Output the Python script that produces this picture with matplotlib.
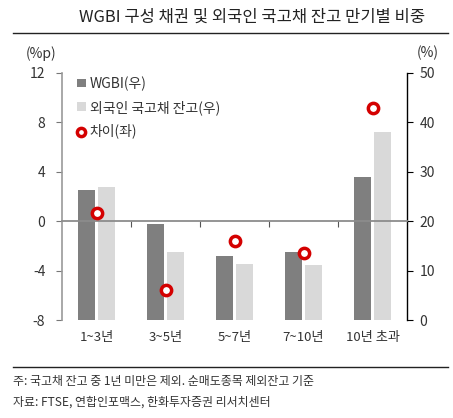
import numpy as np
import matplotlib
matplotlib.use("Agg")
import matplotlib.pyplot as plt
from matplotlib.transforms import blended_transform_factory

plt.rcParams['font.family'] = ['Noto Sans CJK KR', 'DejaVu Sans']
plt.rcParams['axes.unicode_minus'] = False

# 데이터
categories = ["1~3년", "3~5년", "5~7년", "7~10년", "10년 초과"]
wgbi = [26.3, 19.4, 12.9, 13.7, 28.9]          # 우축, %
foreign = [27.0, 13.8, 11.3, 11.1, 38.1]       # 우축, %
diff = [0.7, -5.6, -1.6, -2.6, 9.2]            # 좌축, %p

fig = plt.figure(figsize=(4.53, 4.18), dpi=100)
ax = fig.add_axes([62/453, 98/418, 345/453, 247/418])
ax2 = ax.twinx()

x = np.arange(len(categories))
w = 0.25
b1 = ax2.bar(x - 0.145, wgbi, width=w, color="#7f7f7f", label="WGBI(우)", zorder=2)
b2 = ax2.bar(x + 0.145, foreign, width=w, color="#d9d9d9", label="외국인 국고채 잔고(우)", zorder=2)
ax2.set_ylim(0, 50)
ax2.set_yticks([0, 10, 20, 30, 40, 50])

# 차이는 좌축, 막대 위에 그리기
ax.set_zorder(ax2.get_zorder() + 1)
ax.patch.set_visible(False)
pts = ax.scatter(x, diff, s=55, facecolor="white", edgecolor="#d40000",
                 linewidth=2.5, label="차이(좌)", zorder=5)
ax.set_ylim(-8, 12)
ax.set_yticks([-8, -4, 0, 4, 8, 12])
ax.set_xlim(-0.5, len(categories) - 0.5)

# x축: 0 위치에 선, 경계에 눈금
ax.spines['bottom'].set_position(('data', 0))
ax.spines['bottom'].set_color("#8c8c8c")
ax.spines['bottom'].set_linewidth(1.3)
ax.set_xticks(np.arange(0.5, len(categories) - 0.5, 1.0))
ax.set_xticklabels([])
ax.tick_params(axis='x', direction='out', length=4, color="#555555")
trans = blended_transform_factory(ax.transData, ax.transAxes)
for i, c in enumerate(categories):
    ax.text(x[i], -0.07, c, transform=trans, ha="center", va="center",
            fontsize=9.5, color="#333333")

for a in (ax, ax2):
    a.spines['top'].set_visible(False)
ax.spines['right'].set_visible(False)
ax2.spines['bottom'].set_visible(False)
ax2.spines['left'].set_visible(False)
ax.spines['left'].set_color("#999999")
ax.spines['left'].set_linewidth(1.2)
ax2.spines['right'].set_color("#000000")
ax2.spines['right'].set_linewidth(1.0)
ax.tick_params(axis='y', direction='out', length=4, color="#777777",
               labelsize=10, labelcolor="#333333", pad=8)
ax2.tick_params(axis='y', direction='out', length=4, color="#000000",
                labelsize=10, labelcolor="#333333", pad=5)

ax.text(-0.06, 1.08, "(%p)", transform=ax.transAxes, ha="center", va="center",
        fontsize=10, color="#333333")
ax2.text(1.06, 1.08, "(%)", transform=ax.transAxes, ha="center", va="center",
         fontsize=10, color="#333333")

leg = ax.legend([b1, b2, pts], ["WGBI(우)", "외국인 국고채 잔고(우)", "차이(좌)"],
                loc="upper left", bbox_to_anchor=(0.02, 1.02), frameon=False,
                fontsize=10, handlelength=0.6, handleheight=0.6, handletextpad=0.3,
                labelspacing=0.65, markerscale=0.8, borderaxespad=0.2)
for t in leg.get_texts():
    t.set_color("#333333")

# 제목과 선
fig.text(0.556, 0.958, "WGBI 구성 채권 및 외국인 국고채 잔고 만기별 비중",
         ha="center", va="center", fontsize=11.9, color="#222222")
fig.add_artist(plt.Line2D([13/453, 448/453], [1 - 33/418, 1 - 33/418],
                          color="#222222", linewidth=1.0))
fig.add_artist(plt.Line2D([13/453, 448/453], [1 - 367/418, 1 - 367/418],
                          color="#222222", linewidth=1.0))
fig.text(13/453, 1 - 381/418, "주: 국고채 잔고 중 1년 미만은 제외. 순매도종목 제외잔고 기준",
         ha="left", va="center", fontsize=8.6, color="#333333")
fig.text(13/453, 1 - 402/418, "자료: FTSE, 연합인포맥스, 한화투자증권 리서치센터",
         ha="left", va="center", fontsize=8.6, color="#333333")

fig.savefig("out.png", dpi=100)
